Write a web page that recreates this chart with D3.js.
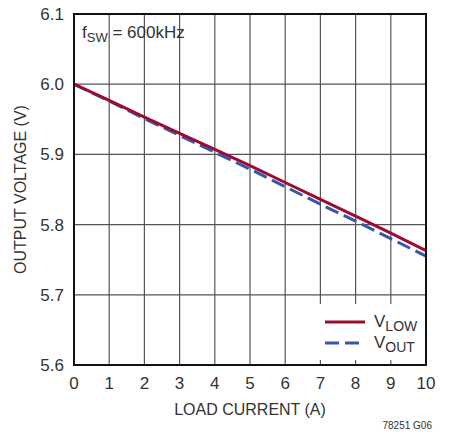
<!DOCTYPE html>
<html>
<head>
<meta charset="utf-8">
<script src="https://cdn.jsdelivr.net/npm/d3@7"></script>
<style>
  body { margin: 0; background: #fff; }
  svg text { font-family: "Liberation Sans Narrow", "Arial Narrow", "Liberation Sans", sans-serif; fill: #333; }
</style>
</head>
<body>
<div id="chart"></div>
<script>
// load current (A)
const current = [0, 1, 2, 3, 4, 5, 6, 7, 8, 9, 10];
// output voltages
const vLow = [6.000, 5.977, 5.953, 5.930, 5.907, 5.884, 5.860, 5.836, 5.812, 5.788, 5.763];
const vOut = [6.000, 5.976, 5.951, 5.927, 5.903, 5.879, 5.854, 5.829, 5.805, 5.780, 5.755];
const xTicks = [0, 1, 2, 3, 4, 5, 6, 7, 8, 9, 10];
const yTicks = [5.6, 5.7, 5.8, 5.9, 6.0, 6.1];

const W = 451, H = 434;
const m = { left: 74, right: 25, top: 14, bottom: 69 };

const svg = d3.select('#chart')
    .append('svg')
    .attr('width', W)
    .attr('height', H);

const x = d3.scaleLinear().domain([0, 10]).range([m.left, W - m.right]);
const y = d3.scaleLinear().domain([5.6, 6.1]).range([H - m.bottom, m.top]);

// grid
svg.append('g')
    .selectAll('line')
    .data(xTicks.slice(1, -1))
    .enter()
    .append('line')
    .attr('x1', d => x(d)).attr('x2', d => x(d))
    .attr('y1', y(6.1)).attr('y2', y(5.6))
    .attr('stroke', '#555')
    .attr('stroke-width', 1.2);

svg.append('g')
    .selectAll('line')
    .data(yTicks.slice(1, -1))
    .enter()
    .append('line')
    .attr('x1', x(0)).attr('x2', x(10))
    .attr('y1', d => y(d)).attr('y2', d => y(d))
    .attr('stroke', '#555')
    .attr('stroke-width', 1.2);

// white legend box cuts grid
svg.append('rect')
    .attr('x', x(6.6)).attr('y', y(5.687))
    .attr('width', x(10) - x(6.6)).attr('height', y(5.607) - y(5.687))
    .attr('fill', '#fff');

// axis labels (ticks)
svg.append('g')
    .selectAll('text')
    .data(xTicks)
    .enter()
    .append('text')
    .attr('x', d => x(d))
    .attr('y', y(5.6) + 24)
    .attr('text-anchor', 'middle')
    .attr('font-size', '17px')
    .text(d => d);

svg.append('g')
    .selectAll('text')
    .data(yTicks)
    .enter()
    .append('text')
    .attr('x', x(0) - 10)
    .attr('y', d => y(d) + 6)
    .attr('text-anchor', 'end')
    .attr('font-size', '17px')
    .text(d => d.toFixed(1));

// lines
const line = d3.line()
    .x((d, i) => x(current[i]))
    .y(d => y(d));

svg.append('path')
    .datum(vOut)
    .attr('d', line)
    .attr('fill', 'none')
    .attr('stroke', '#3a55b0')
    .attr('stroke-width', 3)
    .attr('stroke-dasharray', '14,6');

svg.append('path')
    .datum(vLow)
    .attr('d', line)
    .attr('fill', 'none')
    .attr('stroke', '#9a0d2e')
    .attr('stroke-width', 3);

// frame
svg.append('rect')
    .attr('x', x(0)).attr('y', y(6.1))
    .attr('width', x(10) - x(0)).attr('height', y(5.6) - y(6.1))
    .attr('fill', 'none')
    .attr('stroke', '#111')
    .attr('stroke-width', 2);

// annotation
const ann = svg.append('text')
    .attr('x', x(0) + 8)
    .attr('y', y(6.1) + 24)
    .attr('font-size', '17px');
ann.append('tspan').text('f');
ann.append('tspan').attr('font-size', '13px').attr('dy', 4).text('SW');
ann.append('tspan').attr('dy', -4).text(' = 600kHz');

// legend
const legend = [
    { name: 'LOW', color: '#9a0d2e', dash: null, yPos: 322 },
    { name: 'OUT', color: '#3a55b0', dash: '14,6', yPos: 343 }
];
legend.forEach(l => {
    svg.append('line')
        .attr('x1', 325).attr('x2', 365)
        .attr('y1', l.yPos).attr('y2', l.yPos)
        .attr('stroke', l.color)
        .attr('stroke-width', 3)
        .attr('stroke-dasharray', l.dash);
    const t = svg.append('text')
        .attr('x', 374)
        .attr('y', l.yPos + 5)
        .attr('font-size', '17px');
    t.append('tspan').text('V');
    t.append('tspan').attr('font-size', '14px').attr('dy', 4).text(l.name);
});

// axis titles
svg.append('text')
    .attr('x', x(5))
    .attr('y', 415)
    .attr('text-anchor', 'middle')
    .attr('font-size', '16px')
    .text('LOAD CURRENT (A)');

svg.append('text')
    .attr('transform', `translate(26, ${y(5.85)}) rotate(-90)`)
    .attr('text-anchor', 'middle')
    .attr('font-size', '16px')
    .text('OUTPUT VOLTAGE (V)');

svg.append('text')
    .attr('x', 432)
    .attr('y', 429)
    .attr('text-anchor', 'end')
    .attr('font-size', '10px')
    .text('78251 G06');
</script>
</body>
</html>
